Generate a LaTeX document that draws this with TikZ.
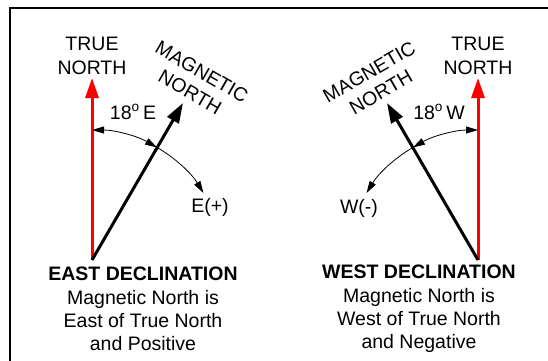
\documentclass[tikz,border=0pt]{standalone}
\usepackage{fontspec}
\setmainfont{Liberation Sans}
\usepackage{tikz}
\usetikzlibrary{calc, positioning, arrows.meta}
\newcommand{\declfont}{\fontsize{19.5}{23.3}\selectfont}
\tikzset{
    declination/.style={
        x=1pt, y=1pt,
        font=\declfont,
        >={Triangle[length=12pt, width=7pt]},
        label_text/.style={align=center, inner sep=0pt},
        true_north/.style={line width=3pt, red, -{Triangle[length=20pt, width=13pt]}},
        mag_north/.style={line width=3pt, black, -{Triangle[length=20pt, width=13pt]}},
        angle_arc/.style={line width=0.8pt},
        frame/.style={line width=2pt}
    }
}
\begin{document}
\begin{tikzpicture}[declination]
        \useasboundingbox (0,0) rectangle (548,360);
        \clip (0,0) rectangle (548,360);
        % Frame
        \draw[frame] (10,-20) -- (10,352.5) -- (600,352.5);

        % East declination
        \coordinate (baseE) at (92,100);
        \coordinate (tipTE) at (92,282);
        \coordinate (tipME) at (183,257);
        \node[label_text] (trueE) at (92,304) {TRUE\\NORTH};
        \node[label_text, rotate=-30] (magE) at (196,278) {MAGNETIC\\NORTH};
        \draw[true_north] (baseE) -- (tipTE);
        \draw[mag_north] (baseE) -- (tipME);
        \draw[angle_arc, <->] ($(baseE)+(90:130)$) arc [start angle=90, end angle=60, radius=130];
        \draw[angle_arc, ->] ($(baseE)+(60:130)$) arc [start angle=60, end angle=31, radius=130];
        \node (angE) at (133,248) {18\textsuperscript{o}\,E};
        \node (signE) at (210,153) {E(+)};
        \node[label_text] (textE) at (143,51) {\textbf{EAST DECLINATION}\\Magnetic North is\\East of True North\\and Positive};

        % West declination
        \coordinate (baseW) at (478,100);
        \coordinate (tipTW) at (478,282);
        \coordinate (tipMW) at (387,257);
        \node[label_text] (trueW) at (478,304) {TRUE\\NORTH};
        \node[label_text, rotate=30] (magW) at (375,278) {MAGNETIC\\NORTH};
        \draw[true_north] (baseW) -- (tipTW);
        \draw[mag_north] (baseW) -- (tipMW);
        \draw[angle_arc, <->] ($(baseW)+(90:130)$) arc [start angle=90, end angle=120, radius=130];
        \draw[angle_arc, ->] ($(baseW)+(120:130)$) arc [start angle=120, end angle=149, radius=130];
        \node (angW) at (439,248) {18\textsuperscript{o}\,W};
        \node (signW) at (359,152) {W(-)};
        \node[label_text] (textW) at (419,51) {\textbf{WEST DECLINATION}\\Magnetic North is\\West of True North\\and Negative};
    \end{tikzpicture}
\end{document}
